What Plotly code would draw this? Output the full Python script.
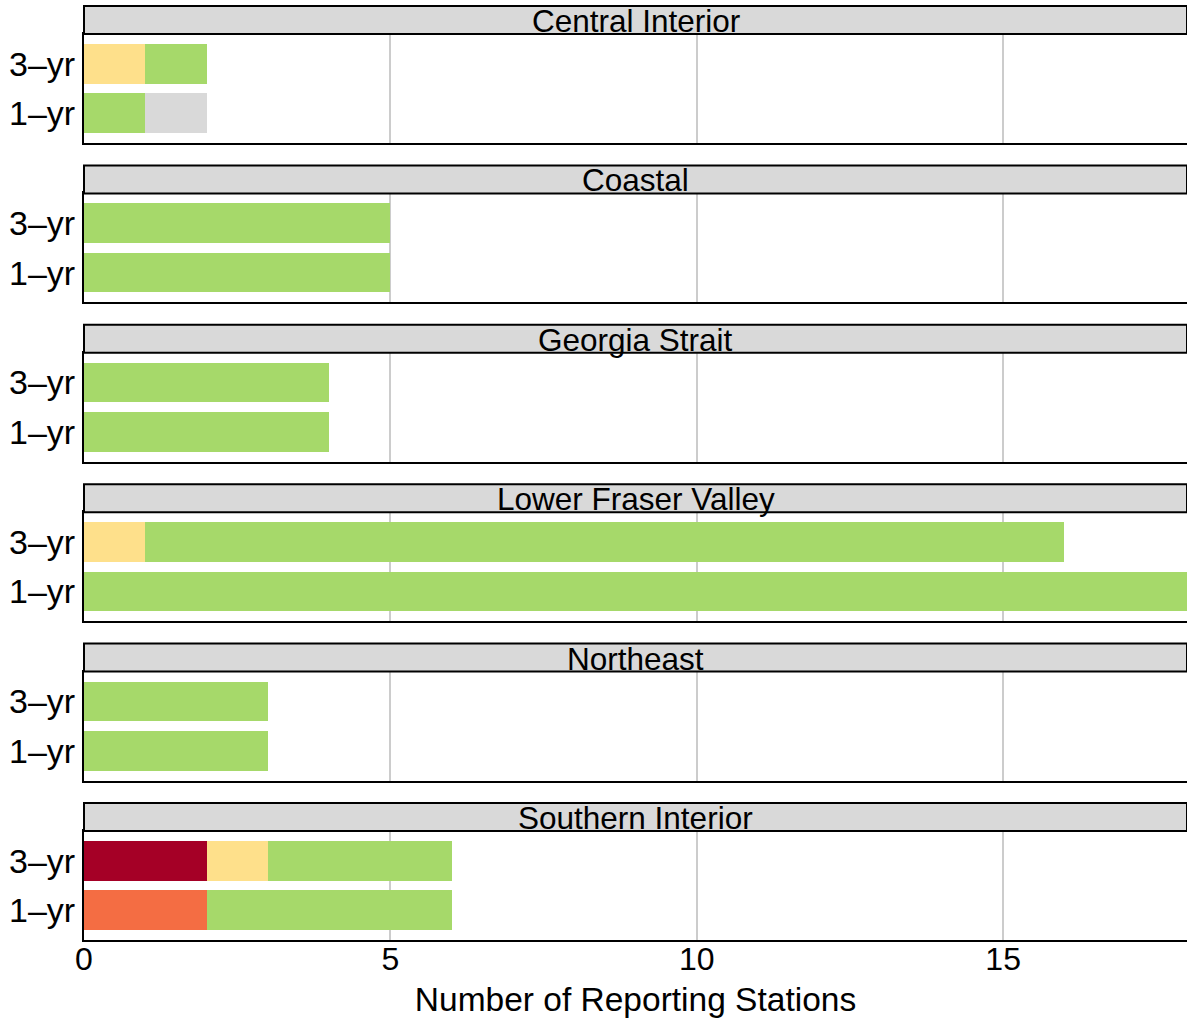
import plotly.graph_objects as go

regions = ["Central Interior", "Coastal", "Georgia Strait",
           "Lower Fraser Valley", "Northeast", "Southern Interior"]
periods = ["1–yr", "3–yr"]
levels = ["Red", "Orange", "Yellow", "Green", "Insufficient Data"]
level_colors = ["#A50026", "#F46D43", "#FEE08B", "#A6D96A", "#D9D9D9"]

# counts per region, [1-yr, 3-yr]
red_counts    = [[0, 0], [0, 0], [0, 0], [0, 0],  [0, 0], [0, 2]]
orange_counts = [[0, 0], [0, 0], [0, 0], [0, 0],  [0, 0], [2, 0]]
yellow_counts = [[0, 1], [0, 0], [0, 0], [0, 1],  [0, 0], [0, 1]]
green_counts  = [[1, 1], [5, 5], [4, 4], [18, 15], [3, 3], [4, 3]]
grey_counts   = [[1, 0], [0, 0], [0, 0], [0, 0],  [0, 0], [0, 0]]
level_counts = [red_counts, orange_counts, yellow_counts, green_counts, grey_counts]

x_ticks = [0, 5, 10, 15]
x_max = 18

W, H = 1187, 1018
ML, MR, MT, MB = 84, 0, 6, 78
PH = H - MT - MB
STRIP = 28
PANEL = 109
STEP = (PH - (STRIP + PANEL)) / (len(regions) - 1)

FONT = "Liberation Sans, Arial, sans-serif"

fig = go.Figure()
shapes = []
annotations = []
layout_axes = {}

for i, reg in enumerate(regions):
    n = i + 1
    xname = "x" if n == 1 else f"x{n}"
    yname = "y" if n == 1 else f"y{n}"
    strip_top = i * STEP
    d0 = 1 - (strip_top + STRIP + PANEL) / PH
    d1 = 1 - (strip_top + STRIP) / PH
    for lv, col, cnt in zip(levels, level_colors, level_counts):
        vals = cnt[i]
        fig.add_trace(go.Bar(
            x=vals, y=periods, orientation="h", name=lv,
            marker=dict(color=col, line=dict(width=0)),
            xaxis=xname, yaxis=yname, showlegend=False,
        ))
    last = (i == len(regions) - 1)
    xkey = "xaxis" if n == 1 else f"xaxis{n}"
    ykey = "yaxis" if n == 1 else f"yaxis{n}"
    layout_axes[xkey] = dict(
        domain=[0, 1], anchor=yname, range=[0, x_max],
        tickvals=x_ticks, showticklabels=last, automargin=False,
        showgrid=True, gridcolor="#CCCCCC", gridwidth=2,
        zeroline=False, showline=True, mirror=True,
        linecolor="black", linewidth=2, ticks="", ticklabelstandoff=-10,
        tickfont=dict(size=32, color="black", family=FONT),
        title=dict(text="Number of Reporting Stations" if last else "",
                   font=dict(size=33.5, color="black", family=FONT), standoff=12),
    )
    if n != 1:
        layout_axes[xkey]["matches"] = "x"
    layout_axes[ykey] = dict(
        domain=[d0, d1], anchor=xname, type="category",
        categoryorder="array", categoryarray=periods, automargin=False,
        range=[-0.6, 1.6], showgrid=False, zeroline=False,
        showline=True, mirror=True, linecolor="black", linewidth=2,
        ticks="", ticklabelstandoff=0,
        tickfont=dict(size=34, color="black", family=FONT),
    )
    s0 = 1 - (strip_top + STRIP) / PH
    s1 = 1 - strip_top / PH
    shapes.append(dict(type="rect", xref="paper", yref="paper",
                       x0=0, x1=1, y0=s0, y1=s1,
                       fillcolor="#D9D9D9", line=dict(color="black", width=2),
                       layer="above"))
    annotations.append(dict(xref="paper", yref="paper", x=0.5, y=(s0 + s1) / 2,
                            text=reg, showarrow=False, xanchor="center",
                            yanchor="middle", yshift=-1,
                            font=dict(size=31.5, color="black", family=FONT)))

fig.update_layout(
    width=W, height=H,
    margin=dict(l=ML, r=MR, t=MT, b=MB, autoexpand=False),
    paper_bgcolor="white", plot_bgcolor="white",
    barmode="stack", bargap=0.2,
    shapes=shapes, annotations=annotations,
    showlegend=False,
    **layout_axes,
)

fig.write_html("out.html", config={"displayModeBar": False},
               post_script="document.body.style.margin='0px';document.body.style.overflow='hidden';")
